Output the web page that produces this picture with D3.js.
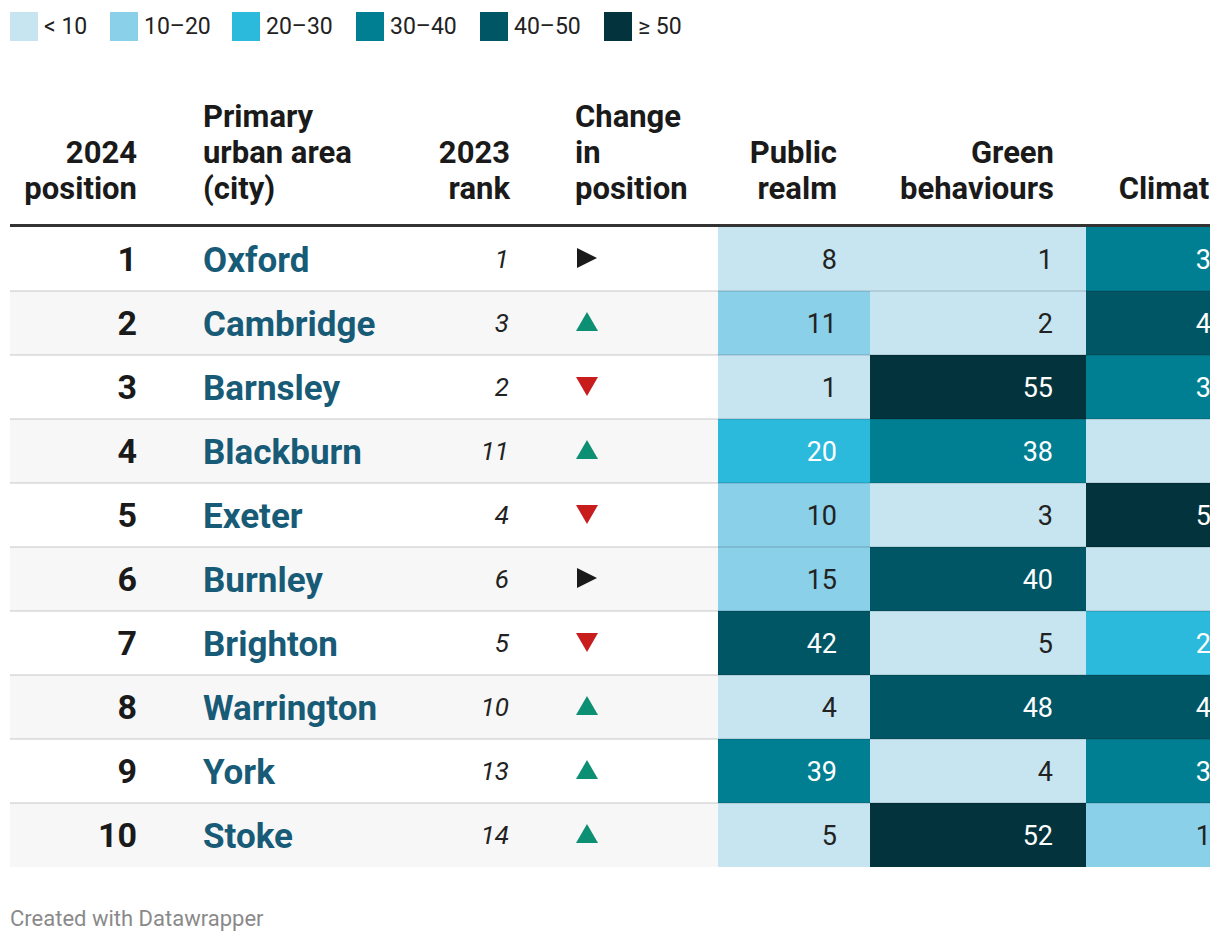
<!DOCTYPE html>
<html>
<head>
<meta charset="utf-8">
<script src="https://cdn.jsdelivr.net/npm/d3@7"></script>
<style>
  html, body { margin: 0; padding: 0; background: #fff; }
  svg { display: block; font-family: Roboto, "Noto Sans", sans-serif; }
</style>
</head>
<body>
<svg id="chart" width="1220" height="944"></svg>
<script>
// ---- data ----
const positions2024 = [1, 2, 3, 4, 5, 6, 7, 8, 9, 10];
const cities = ["Oxford", "Cambridge", "Barnsley", "Blackburn", "Exeter", "Burnley", "Brighton", "Warrington", "York", "Stoke"];
const rank2023 = [1, 3, 2, 11, 4, 6, 5, 10, 13, 14];
const publicRealm = [8, 11, 1, 20, 10, 15, 42, 4, 39, 5];
const greenBehaviours = [1, 2, 55, 38, 3, 40, 5, 48, 4, 52];
const climate = [35, 44, 33, 7, 54, 8, 25, 46, 37, 16];
const legendLabels = ["< 10", "10\u201320", "20\u201330", "30\u201340", "40\u201350", "\u2265 50"];
const binThresholds = [10, 20, 30, 40, 50];
const binColors = ["#c6e5f0", "#89d0e8", "#2bb9dc", "#007f93", "#005664", "#03333c"];
const binTextColors = ["#222", "#222", "#fff", "#fff", "#fff", "#fff"];

const svg = d3.select("#chart");
const clipRight = 1210;

const colorScale = d3.scaleThreshold().domain(binThresholds).range(binColors);
const textScale = d3.scaleThreshold().domain(binThresholds).range(binTextColors);

// ---- legend ----
const legendX = [10, 110, 232, 356, 480, 604];
const lg = svg.append("g");
legendLabels.forEach((lab, i) => {
  lg.append("rect").attr("x", legendX[i]).attr("y", 12).attr("width", 28).attr("height", 29).attr("fill", binColors[i]);
  lg.append("text").attr("x", legendX[i] + 34).attr("y", 34).attr("font-size", 23).attr("fill", "#222").text(lab);
});

// ---- table ----
svg.append("defs").append("clipPath").attr("id", "clip")
  .append("rect").attr("x", 0).attr("y", 0).attr("width", clipRight).attr("height", 944);
const tbl = svg.append("g").attr("clip-path", "url(#clip)");

const rowTop = 227, rowH = 64;
const y = d3.scaleBand().domain(d3.range(cities.length)).range([rowTop, rowTop + rowH * cities.length]).paddingInner(0).paddingOuter(0);

// row backgrounds
tbl.selectAll("rect.rowbg").data(d3.range(cities.length)).join("rect")
  .attr("x", 10).attr("width", 1300).attr("y", i => y(i)).attr("height", y.bandwidth())
  .attr("fill", i => i % 2 === 1 ? "#f7f7f7" : "#fff");

// heat cells
const heatCols = [
  { name: "Public realm", values: publicRealm, x0: 718, x1: 870 },
  { name: "Green behaviours", values: greenBehaviours, x0: 870, x1: 1086 },
  { name: "Climate", values: climate, x0: 1086, x1: 1259 }
];
heatCols.forEach(col => {
  const g = tbl.append("g");
  g.selectAll("rect").data(col.values).join("rect")
    .attr("x", col.x0).attr("width", col.x1 - col.x0)
    .attr("y", (d, i) => y(i)).attr("height", y.bandwidth())
    .attr("fill", d => colorScale(d));
  g.selectAll("text").data(col.values).join("text")
    .attr("x", col.x1 - 33).attr("y", (d, i) => y(i) + y.bandwidth() / 2)
    .attr("dy", "0.36em").attr("text-anchor", "end").attr("font-size", 27)
    .attr("fill", d => textScale(d)).text(d => d);
});

// row separators
tbl.selectAll("rect.sep").data(d3.range(1, cities.length)).join("rect")
  .attr("x", 10).attr("width", 1300).attr("y", i => y(i) - 1).attr("height", 2)
  .attr("fill", "rgba(0,0,0,0.1)");

// position column
tbl.selectAll("text.pos").data(positions2024).join("text")
  .attr("x", 137).attr("y", (d, i) => y(i) + y.bandwidth() / 2).attr("dy", "0.36em")
  .attr("text-anchor", "end").attr("font-size", 34).attr("font-weight", 700).attr("fill", "#1a1a1a")
  .text(d => d);

// city names
tbl.selectAll("text.city").data(cities).join("text")
  .attr("x", 203).attr("y", (d, i) => y(i) + y.bandwidth() / 2).attr("dy", "0.36em")
  .attr("font-size", 35).attr("font-weight", 700).attr("fill", "#175b77")
  .text(d => d);

// 2023 rank
tbl.selectAll("text.rank").data(rank2023).join("text")
  .attr("x", 509).attr("y", (d, i) => y(i) + y.bandwidth() / 2).attr("dy", "0.36em")
  .attr("text-anchor", "end").attr("font-size", 26).attr("font-style", "italic").attr("fill", "#222")
  .text(d => d);

// change markers
const triSize = 22;
tbl.selectAll("path.chg").data(positions2024.map((p, i) => rank2023[i] - p)).join("path")
  .attr("transform", (d, i) => `translate(587,${y(i) + y.bandwidth() / 2 - 1})`)
  .attr("d", d => {
    const h = triSize / 2;
    if (d > 0) return `M${-h},${h - 2}L${h},${h - 2}L0,${-h + 1}Z`;   // up
    if (d < 0) return `M${-h},${-h + 2}L${h},${-h + 2}L0,${h - 1}Z`;   // down
    return `M${-h + 1},${-h + 1}L${h - 1},0L${-h + 1},${h - 1}Z`;       // same
  })
  .attr("fill", d => d > 0 ? "#0d8f74" : d < 0 ? "#c71e1d" : "#1a1a1a");

// header
const headerLines = [127, 163, 199];
const headers = [
  { lines: ["2024", "position"], x: 137, anchor: "end" },
  { lines: ["Primary", "urban area", "(city)"], x: 203, anchor: "start" },
  { lines: ["2023", "rank"], x: 510, anchor: "end" },
  { lines: ["Change", "in", "position"], x: 575, anchor: "start" },
  { lines: ["Public", "realm"], x: 837, anchor: "end" },
  { lines: ["Green", "behaviours"], x: 1054, anchor: "end" },
  { lines: ["Climate"], x: 1226, anchor: "end" }
];
headers.forEach(h => {
  const offset = 3 - h.lines.length;
  h.lines.forEach((ln, j) => {
    tbl.append("text").attr("x", h.x).attr("y", headerLines[j + offset])
      .attr("text-anchor", h.anchor).attr("font-size", 31).attr("font-weight", 700).attr("fill", "#1a1a1a")
      .text(ln);
  });
});
tbl.append("rect").attr("x", 10).attr("y", 224).attr("width", 1300).attr("height", 3).attr("fill", "#333");

// footer
svg.append("text").attr("x", 10).attr("y", 926).attr("font-size", 22).attr("fill", "#8a8a8a")
  .text("Created with Datawrapper");
</script>
</body>
</html>
